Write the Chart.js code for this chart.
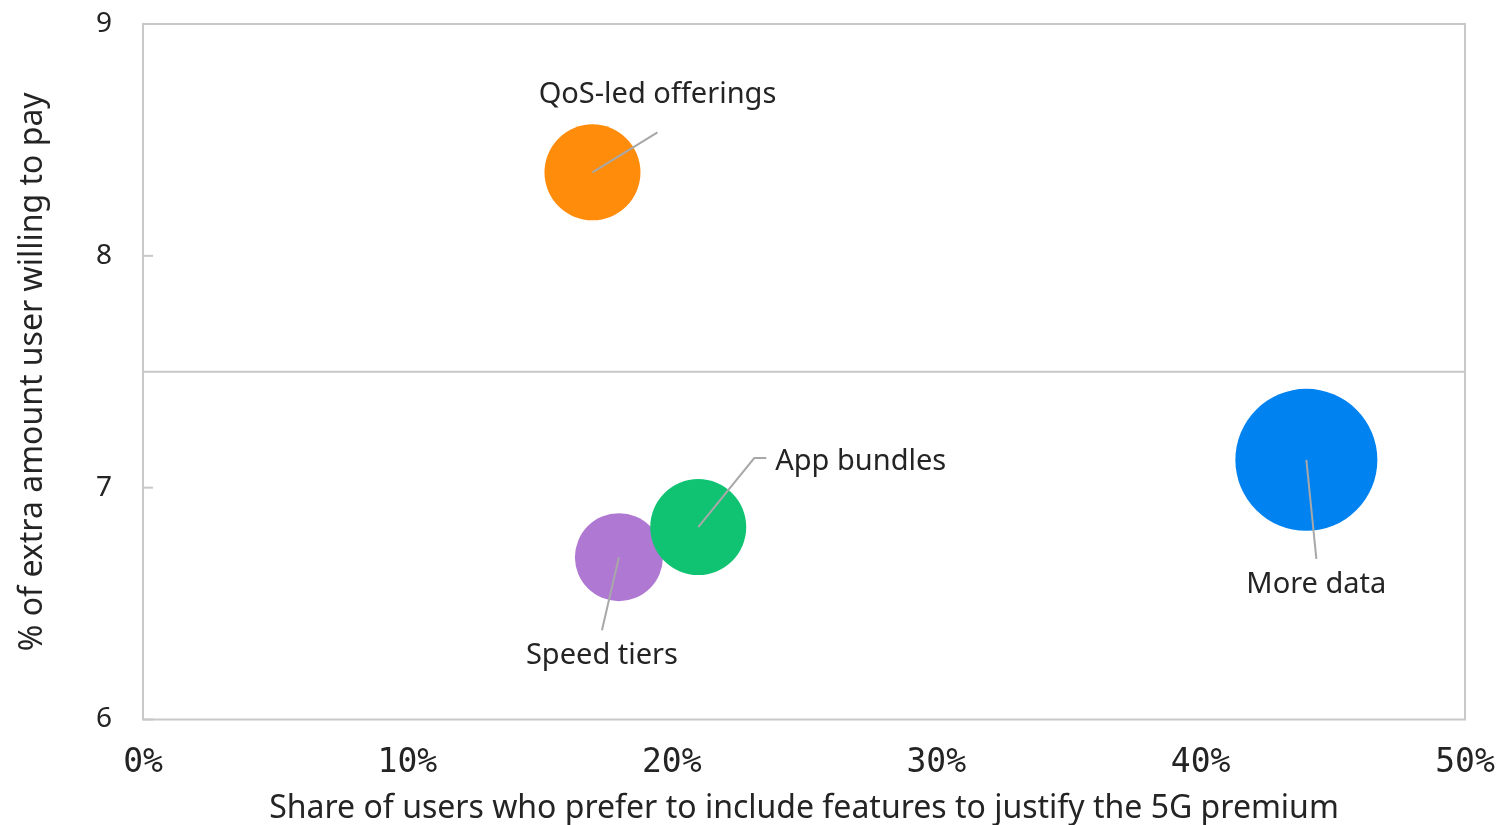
<!DOCTYPE html>
<html>
<head>
<meta charset="utf-8">
<script src="https://cdn.jsdelivr.net/npm/chart.js@4.4.0/dist/chart.umd.min.js"></script>
<style>
  html, body { margin: 0; padding: 0; background: #fff; }
  #wrap { width: 1501px; height: 825px; }
</style>
</head>
<body>
<div id="wrap"><canvas id="bubbleChart"></canvas></div>
<script>
// values
const offerings = ['QoS-led offerings', 'App bundles', 'Speed tiers', 'More data'];
const shareOfUsers = [17, 21, 18, 44];          // % of users
const extraPay = [8.36, 6.83, 6.70, 7.12];      // % extra amount
const bubbleSize = [48, 48, 44, 71];
const bubbleColors = ['#ff8c0a', '#0fc373', '#af78d2', '#0082f0'];
const xTickLabels = ['0%', '10%', '20%', '30%', '40%', '50%'];
const yTickLabels = ['6', '7', '8', '9'];
const dividerValue = 7.5;

const textColor = '#242424';
const frameColor = '#c8c8c8';
const leaderColor = '#a8a8a8';
const labelFont = '"Noto Sans", sans-serif';

// leader line points and label anchor, in pixels from each bubble centre
const callouts = [
  { path: [[65, -40]], text: [65, -78], align: 'center' },
  { path: [[56, -69], [68, -69]], text: [77, -65], align: 'left' },
  { path: [[-17, 73]], text: [-17, 99], align: 'center' },
  { path: [[10, 99]], text: [10, 125], align: 'center' },
];

const framePlugin = {
  id: 'frame',
  beforeDatasetsDraw(chart) {
    const { ctx, chartArea: a, scales: { y } } = chart;
    ctx.save();
    ctx.strokeStyle = frameColor;
    ctx.lineWidth = 2;
    ctx.strokeRect(a.left, a.top, a.right - a.left, a.bottom - a.top);
    // inward tick marks on the y axis
    y.ticks.forEach((t) => {
      const py = y.getPixelForValue(t.value);
      ctx.beginPath();
      ctx.moveTo(a.left, py);
      ctx.lineTo(a.left + 10, py);
      ctx.stroke();
    });
    const dy = y.getPixelForValue(dividerValue);
    ctx.beginPath();
    ctx.moveTo(a.left, dy);
    ctx.lineTo(a.right, dy);
    ctx.stroke();
    ctx.restore();
  },
};

const calloutPlugin = {
  id: 'callouts',
  afterDatasetsDraw(chart) {
    const { ctx } = chart;
    ctx.save();
    chart.data.datasets.forEach((ds, i) => {
      const pt = chart.getDatasetMeta(i).data[0];
      const c = callouts[i];
      ctx.strokeStyle = leaderColor;
      ctx.lineWidth = 2;
      ctx.beginPath();
      ctx.moveTo(pt.x, pt.y);
      c.path.forEach(([dx, dy]) => ctx.lineTo(pt.x + dx, pt.y + dy));
      ctx.stroke();
      ctx.fillStyle = textColor;
      ctx.font = '29px ' + labelFont;
      ctx.textAlign = c.align;
      ctx.textBaseline = 'middle';
      ctx.fillText(ds.label, pt.x + c.text[0], pt.y + c.text[1]);
    });
    ctx.restore();
  },
};

new Chart(document.getElementById('bubbleChart'), {
  type: 'bubble',
  data: {
    datasets: offerings.map((name, i) => ({
      label: name,
      data: [{ x: shareOfUsers[i], y: extraPay[i], r: bubbleSize[i] }],
      backgroundColor: bubbleColors[i],
      borderWidth: 0,
      hoverRadius: 0,
    })),
  },
  options: {
    responsive: true,
    maintainAspectRatio: false,
    animation: false,
    layout: { autoPadding: false, padding: { top: 24, right: 36, left: 0, bottom: 0 } },
    plugins: {
      legend: { display: false },
      tooltip: { enabled: false },
    },
    scales: {
      x: {
        type: 'linear',
        min: 0,
        max: 50,
        grid: { display: false, drawTicks: false },
        border: { display: false },
        ticks: {
          stepSize: 10,
          padding: 24,
          color: textColor,
          font: { family: '"DejaVu Sans Mono", monospace', size: 33 },
          callback: (v) => xTickLabels[v / 10],
        },
        title: {
          display: true,
          text: 'Share of users who prefer to include features to justify the 5G premium',
          color: textColor,
          font: { family: labelFont, size: 32 },
          padding: { top: 0, bottom: -3 },
        },
        afterFit: (scale) => {
          scale.height = 105.5;
          scale.paddingLeft = 0;
          scale.paddingRight = 0;
        },
      },
      y: {
        min: 6,
        max: 9,
        grid: { display: false, drawTicks: false },
        border: { display: false },
        ticks: {
          stepSize: 1,
          padding: 31,
          color: textColor,
          font: { family: labelFont, size: 28 },
          callback: (v) => yTickLabels[v - 6],
        },
        title: {
          display: true,
          text: '% of extra amount user willing to pay',
          color: textColor,
          font: { family: labelFont, size: 32 },
          padding: { top: 14, bottom: 0 },
        },
        afterFit: (scale) => {
          scale.width = 143;
          scale.paddingTop = 0;
          scale.paddingBottom = 0;
        },
      },
    },
  },
  plugins: [framePlugin, calloutPlugin],
});
</script>
</body>
</html>
